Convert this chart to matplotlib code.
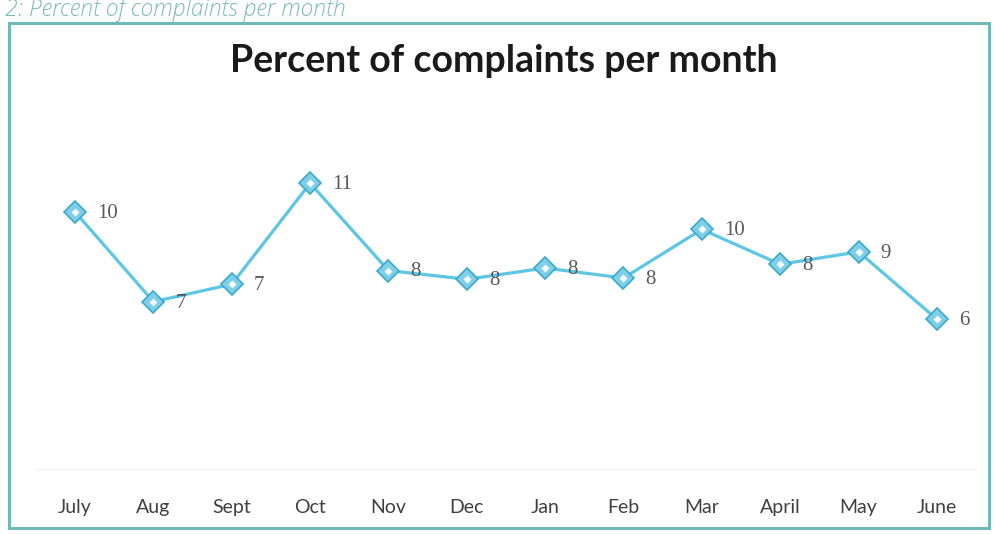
import matplotlib
matplotlib.use("Agg")
import matplotlib.pyplot as plt
from matplotlib.patches import Rectangle

months = ["July", "Aug", "Sept", "Oct", "Nov", "Dec", "Jan", "Feb", "Mar", "April", "May", "June"]
percent = [10.3, 6.7, 7.4, 11.45, 7.95, 7.6, 8.05, 7.65, 9.6, 8.2, 8.7, 6.0]
title = "Percent of complaints per month"
caption = "2: Percent of complaints per month"

fig = plt.figure(figsize=(9.97, 5.34), dpi=100)
fig.patch.set_facecolor("white")

# outer frame
fig.patches.append(Rectangle((0.009, 0.012), 0.983, 0.945, transform=fig.transFigure,
                             fill=False, edgecolor="#6fb9b9", linewidth=2.2))

# caption at top
fig.text(0.005, 0.970, caption, fontsize=16.5, style="italic", color="#7db9bd",
         family="Open Sans", fontweight="light", va="baseline", ha="left")

ax = fig.add_axes([0.036, 0.122, 0.943, 0.654])
x = list(range(len(months)))
ax.plot(x, percent, color="#5cc6e4", linewidth=2.3, zorder=2)
ax.plot(x, percent, linestyle="none", marker="D", markersize=11,
        markerfacecolor="#7fcfe6", markeredgecolor="#3aa9cc", markeredgewidth=1.2, zorder=3)
ax.plot(x, percent, linestyle="none", marker="D", markersize=4,
        markerfacecolor="#f4fbfd", markeredgecolor="none", zorder=4)

for xi, v in zip(x, percent):
    ax.annotate(f"{round(v)}", (xi, v), xytext=(16, -1), textcoords="offset points",
                ha="left", va="center", fontsize=15, color="#595959",
                family="Liberation Serif")

ax.set_xlim(-0.5, len(months) - 0.5)
ax.set_ylim(0, 14)
ax.set_xticks(x)
ax.set_xticklabels(months, family="Lato", fontsize=14, color="#404040")
ax.tick_params(axis="x", length=0, pad=22)
ax.set_yticks([])
for s in ["left", "right", "top"]:
    ax.spines[s].set_visible(False)
ax.spines["bottom"].set_color("#f0f0f0")
ax.set_facecolor("none")

fig.text(0.505, 0.885, title, fontsize=27, fontweight="bold", family="Lato",
         color="#1a1a1a", ha="center", va="center")

fig.savefig("out.png", dpi=100, facecolor="white")
